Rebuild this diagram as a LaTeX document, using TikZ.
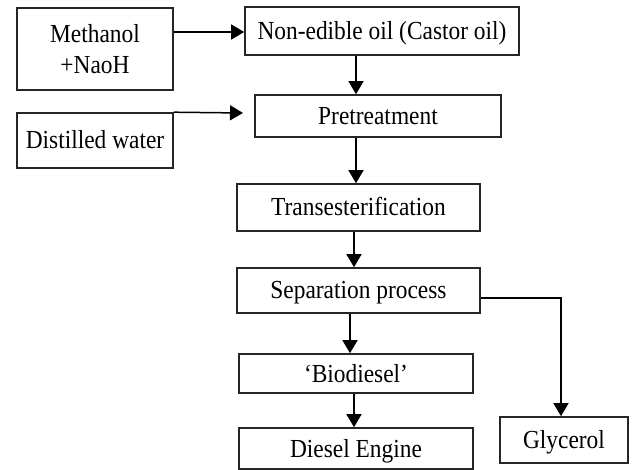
\documentclass[tikz,border=0pt]{standalone}
\usepackage{fontspec}
\setmainfont{Liberation Serif}[FakeStretch=0.9]
\usetikzlibrary{arrows.meta}
\begin{document}
\begin{tikzpicture}[x=1pt,y=-1pt,
  box/.style={draw=black!85,line width=1.6pt,inner sep=0pt,align=center,
    font=\fontsize{26}{31}\selectfont},
  txt/.style={text height=18pt,text depth=1pt},
  arr/.style={draw=black,line width=1.5pt,-{Triangle[width=15pt,length=13pt]}}]
\useasboundingbox (0,0) rectangle (632,470);
\node[box,minimum width=156pt,minimum height=82pt] (meth) at (95,49) {Methanol\\+NaoH};
\node[box,txt,minimum width=156pt,minimum height=55pt] (dist) at (95,140.5) {Distilled water};
\node[box,txt,minimum width=274pt,minimum height=48pt] (non) at (382,31) {Non-edible oil (Castor oil)};
\node[box,txt,minimum width=246pt,minimum height=42pt] (pre) at (378,116) {Pretreatment};
\node[box,txt,minimum width=243pt,minimum height=47pt] (trans) at (358.5,207.5) {Transesterification};
\node[box,txt,minimum width=243pt,minimum height=45pt] (sep) at (358.5,290.5) {Separation process};
\node[box,txt,minimum width=234pt,minimum height=39pt] (bio) at (356,373.5) {`Biodiesel'};
\node[box,txt,minimum width=234pt,minimum height=41pt] (dies) at (356,448.5) {Diesel Engine};
\node[box,txt,minimum width=128pt,minimum height=46pt] (gly) at (564,440) {Glycerol};
\coordinate (dtip) at (243,113);
\coordinate (c1) at (356,0);
\coordinate (c2) at (354,0);
\coordinate (c3) at (350,0);
\coordinate (c4) at (561,0);
\draw[arr] ([yshift=17pt]meth.east) -- ([yshift=17pt]meth.east -| non.west);
\draw[arr] (dist.north east) -- (dtip);
\draw[arr] (non.south -| c1) -- (pre.north -| c1);
\draw[arr] (pre.south -| c1) -- (trans.north -| c1);
\draw[arr] (trans.south -| c2) -- (sep.north -| c2);
\draw[arr] (sep.south -| c3) -- (bio.north -| c3);
\draw[arr] (bio.south -| c2) -- (dies.north -| c2);
\draw[arr] ([yshift=-7.5pt]sep.east) -| (gly.north -| c4);
\end{tikzpicture}
\end{document}
